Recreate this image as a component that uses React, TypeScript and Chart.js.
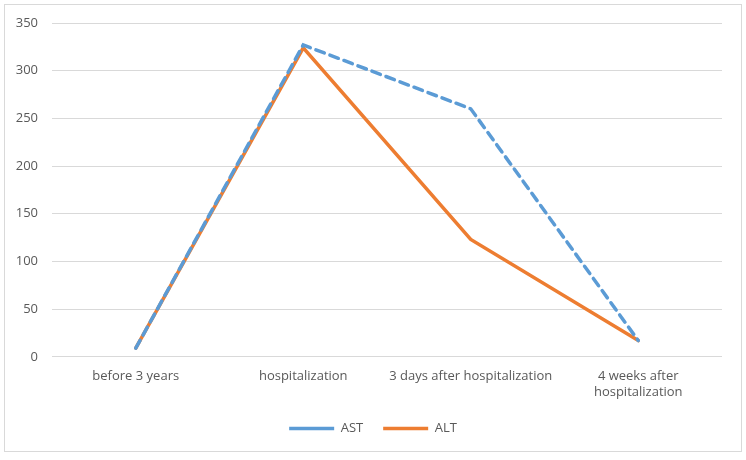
import React, { useEffect, useRef } from "react";
import { Chart, registerables } from "chart.js";

Chart.register(...registerables);

const categories: (string | string[])[] = [
  "before 3 years",
  "hospitalization",
  "3 days after hospitalization",
  ["4 weeks after", "hospitalization"],
];
const astValues = [9, 327, 260, 17];
const altValues = [9, 324, 123, 17];
const seriesNames = ["AST", "ALT"];

const shiftLegend = {
  id: "shiftLegend",
  afterLayout(chart: any) {
    if (chart.legend) {
      chart.legend.left += 7;
      chart.legend.right += 7;
    }
  },
};

export default function App() {
  const ref = useRef<HTMLCanvasElement | null>(null);
  useEffect(() => {
    if (!ref.current) return;
    const font = "'Open Sans', 'Noto Sans', sans-serif";
    const chart = new Chart(ref.current, {
      type: "line",
      plugins: [shiftLegend],
      data: {
        labels: categories,
        datasets: [
          {
            label: seriesNames[0],
            data: astValues,
            borderColor: "#5B9BD5",
            backgroundColor: "#5B9BD5",
            borderWidth: 3.5,
            borderDash: [9, 6],
            borderCapStyle: "round",
            pointRadius: 0,
            tension: 0,
          },
          {
            label: seriesNames[1],
            data: altValues,
            borderColor: "#ED7D31",
            backgroundColor: "#ED7D31",
            borderWidth: 3.5,
            borderCapStyle: "round",
            pointRadius: 0,
            tension: 0,
          },
        ],
      },
      options: {
        animation: false,
        responsive: false,
        maintainAspectRatio: false,
        layout: { padding: { left: 5, right: 19, top: 18, bottom: 6 } },
        plugins: {
          tooltip: { enabled: false },
          legend: {
            position: "bottom",
            labels: {
              usePointStyle: true,
              pointStyle: "line",
              pointStyleWidth: 45,
              color: "#595959",
              font: { family: font, size: 13 },
              padding: 20,
            },
          },
        },
        scales: {
          x: {
            offset: true,
            grid: { display: false, drawTicks: false, offset: true },
            border: { display: false },
            afterFit: (s: any) => {
              s.height = s.height - 10;
            },
            ticks: {
              color: "#595959",
              font: { family: font, size: 13 },
              maxRotation: 0,
              autoSkip: false,
              padding: 12,
            },
          },
          y: {
            min: 0,
            max: 350,
            grid: { color: "#D9D9D9", lineWidth: 1, drawTicks: false },
            border: { display: false },
            afterFit: (s: any) => {
              s.width = 42;
              s.paddingTop = 0;
              s.paddingBottom = 0;
            },
            ticks: {
              stepSize: 50,
              color: "#595959",
              font: { family: font, size: 13 },
              padding: 14,
            },
          },
        },
      },
    });
    return () => chart.destroy();
  }, []);
  return (
    <div
      style={{
        position: "absolute",
        left: 4,
        top: 4,
        width: 736,
        height: 446,
        border: "1px solid #D9D9D9",
        background: "#fff",
      }}
    >
      <canvas ref={ref} width={736} height={446} style={{ display: "block" }} />
    </div>
  );
}
